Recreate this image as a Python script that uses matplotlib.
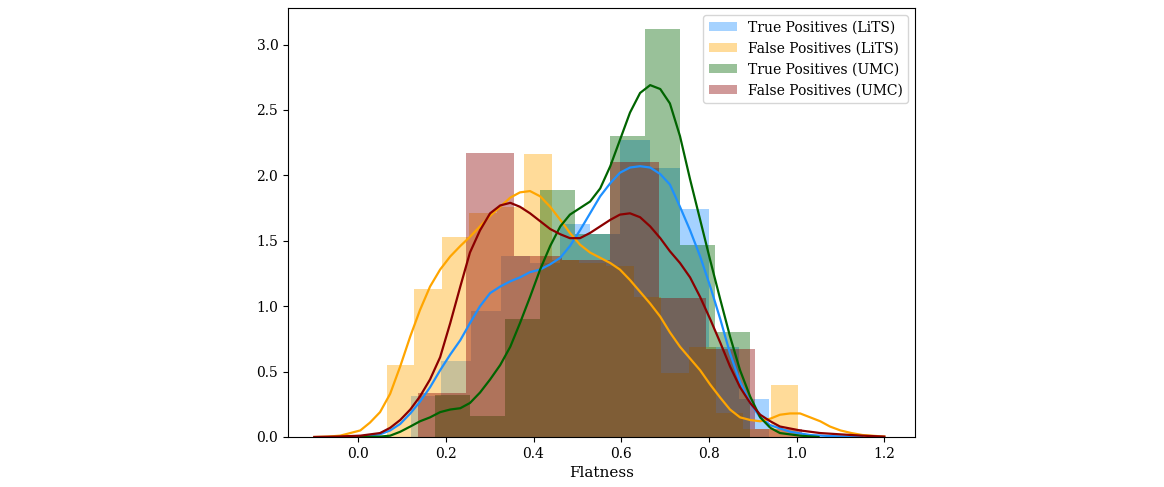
"""
Flatness distributions, LiTS vs UMC
"""

import numpy as np
import matplotlib.pyplot as plt

plt.rcParams['font.family'] = ['DejaVu Serif']

labels = ['True Positives (LiTS)', 'False Positives (LiTS)',
          'True Positives (UMC)', 'False Positives (UMC)']
colors = ['dodgerblue', 'orange', 'darkgreen', 'darkred']

# histogram bin edges and densities
tp_lits_edges = [0.121, 0.189, 0.257, 0.325, 0.393, 0.461, 0.529, 0.597,
                 0.665, 0.733, 0.801, 0.869, 0.937]
tp_lits_hist = [0.31, 0.58, 0.96, 1.38, 1.33, 1.63, 1.55, 2.27, 2.06,
                1.74, 0.69, 0.29]

fp_lits_edges = [0.066, 0.1285, 0.191, 0.2535, 0.316, 0.3785, 0.441, 0.5035,
                 0.566, 0.6285, 0.691, 0.7535, 0.816, 0.8785, 0.941, 1.0035]
fp_lits_hist = [0.55, 1.13, 1.53, 1.71, 1.76, 2.16, 1.35, 1.33, 1.31,
                1.07, 0.49, 0.69, 0.18, 0.06, 0.40]

tp_umc_edges = [0.176, 0.256, 0.335, 0.415, 0.495, 0.575, 0.655, 0.734,
                0.814, 0.894]
tp_umc_hist = [0.32, 0.16, 0.90, 1.89, 1.55, 2.30, 3.12, 1.47, 0.80]

fp_umc_edges = [0.137, 0.247, 0.356, 0.466, 0.575, 0.685, 0.794, 0.904, 1.013]
fp_umc_hist = [0.34, 2.17, 1.38, 1.35, 2.10, 1.06, 0.67, 0.06]

# kde curves
tp_lits_kde_x = [-0.05, 0.005, 0.05, 0.073, 0.096, 0.119, 0.141, 0.164,
                 0.187, 0.21, 0.233, 0.255, 0.278, 0.301, 0.324, 0.347,
                 0.369, 0.392, 0.415, 0.438, 0.461, 0.483, 0.506, 0.529,
                 0.552, 0.575, 0.597, 0.62, 0.643, 0.666, 0.689, 0.711,
                 0.734, 0.757, 0.78, 0.803, 0.826, 0.848, 0.871, 0.894,
                 0.917, 0.94, 0.985, 1.031, 1.076, 1.15]
tp_lits_kde_y = [0.0, 0.005, 0.02, 0.05, 0.10, 0.18, 0.27, 0.38,
                 0.51, 0.63, 0.74, 0.87, 1.0, 1.10, 1.15, 1.19,
                 1.22, 1.26, 1.28, 1.32, 1.37, 1.46, 1.58, 1.71,
                 1.84, 1.94, 2.02, 2.06, 2.07, 2.06, 2.01, 1.93,
                 1.76, 1.58, 1.38, 1.15, 0.9, 0.64, 0.42, 0.26,
                 0.15, 0.09, 0.04, 0.015, 0.007, 0.0]

fp_lits_kde_x = [-0.1, -0.07, -0.041, 0.005, 0.027, 0.05, 0.073, 0.096,
                 0.119, 0.141, 0.164, 0.187, 0.21, 0.233, 0.255, 0.278,
                 0.301, 0.324, 0.347, 0.369, 0.392, 0.415, 0.438, 0.461,
                 0.483, 0.506, 0.529, 0.552, 0.575, 0.597, 0.62, 0.643,
                 0.666, 0.689, 0.711, 0.734, 0.757, 0.78, 0.803, 0.826,
                 0.848, 0.871, 0.894, 0.917, 0.94, 0.962, 0.985, 1.008,
                 1.031, 1.054, 1.076, 1.1, 1.125, 1.15, 1.2]
fp_lits_kde_y = [0.0, 0.003, 0.01, 0.05, 0.11, 0.19, 0.33, 0.54,
                 0.77, 0.97, 1.15, 1.28, 1.38, 1.46, 1.53, 1.61,
                 1.69, 1.76, 1.83, 1.87, 1.88, 1.84, 1.76, 1.66,
                 1.56, 1.47, 1.41, 1.37, 1.33, 1.28, 1.2, 1.11,
                 1.02, 0.92, 0.8, 0.69, 0.6, 0.51, 0.4, 0.3,
                 0.21, 0.15, 0.13, 0.12, 0.14, 0.17, 0.18, 0.18,
                 0.15, 0.12, 0.08, 0.05, 0.03, 0.015, 0.003]

tp_umc_kde_x = [0.0, 0.05, 0.073, 0.096, 0.119, 0.141, 0.164, 0.187, 0.21,
                0.233, 0.255, 0.278, 0.301, 0.324, 0.347, 0.369, 0.392,
                0.415, 0.438, 0.461, 0.483, 0.506, 0.529, 0.552, 0.575,
                0.597, 0.62, 0.643, 0.666, 0.689, 0.711, 0.734, 0.757,
                0.78, 0.803, 0.826, 0.848, 0.871, 0.894, 0.917, 0.94,
                0.962, 1.008, 1.05]
tp_umc_kde_y = [0.0, 0.003, 0.01, 0.04, 0.08, 0.12, 0.15, 0.19, 0.21,
                0.22, 0.26, 0.34, 0.44, 0.55, 0.69, 0.87, 1.07,
                1.28, 1.46, 1.61, 1.70, 1.75, 1.80, 1.90, 2.07,
                2.27, 2.48, 2.63, 2.69, 2.66, 2.55, 2.30, 1.97,
                1.66, 1.35, 1.05, 0.77, 0.51, 0.31, 0.15, 0.07,
                0.03, 0.01, 0.0]

fp_umc_kde_x = [-0.1, -0.05, 0.005, 0.05, 0.073, 0.096, 0.119, 0.141, 0.164,
                0.187, 0.21, 0.233, 0.255, 0.278, 0.301, 0.324, 0.347,
                0.369, 0.392, 0.415, 0.438, 0.461, 0.483, 0.506, 0.529,
                0.552, 0.575, 0.597, 0.62, 0.643, 0.666, 0.689, 0.711,
                0.734, 0.757, 0.78, 0.803, 0.826, 0.848, 0.871, 0.894,
                0.917, 0.94, 0.962, 1.008, 1.054, 1.1, 1.15, 1.2]
fp_umc_kde_y = [0.0, 0.003, 0.01, 0.03, 0.07, 0.13, 0.21, 0.31, 0.44,
                0.61, 0.87, 1.15, 1.41, 1.58, 1.71, 1.77, 1.79,
                1.76, 1.71, 1.65, 1.59, 1.55, 1.52, 1.52, 1.56,
                1.61, 1.66, 1.70, 1.71, 1.68, 1.61, 1.52, 1.42,
                1.33, 1.22, 1.07, 0.9, 0.72, 0.54, 0.38, 0.26,
                0.17, 0.12, 0.08, 0.05, 0.03, 0.02, 0.01, 0.003]

series = [
    (tp_lits_edges, tp_lits_hist, tp_lits_kde_x, tp_lits_kde_y),
    (fp_lits_edges, fp_lits_hist, fp_lits_kde_x, fp_lits_kde_y),
    (tp_umc_edges, tp_umc_hist, tp_umc_kde_x, tp_umc_kde_y),
    (fp_umc_edges, fp_umc_hist, fp_umc_kde_x, fp_umc_kde_y),
]

fig = plt.figure(figsize=(11.64, 4.87), dpi=100)
ax = fig.add_axes([0.2474, 0.1027, 0.5387, 0.881])

for (edges, hist, kx, ky), lab, c in zip(series, labels, colors):
    edges = np.asarray(edges)
    ax.bar(edges[:-1], hist, width=np.diff(edges), align='edge',
           color=c, alpha=0.4, linewidth=0, label=lab)
    ax.plot(kx, ky, color=c, lw=1.6)

ax.set_xlim(-0.16, 1.27)
ax.set_ylim(0, 3.28)
ax.set_xticks([0.0, 0.2, 0.4, 0.6, 0.8, 1.0, 1.2])
ax.set_yticks([0.0, 0.5, 1.0, 1.5, 2.0, 2.5, 3.0])
ax.set_xlabel('Flatness', fontsize=11)
ax.legend(loc='upper right')

fig.savefig('out.png', dpi=100)
